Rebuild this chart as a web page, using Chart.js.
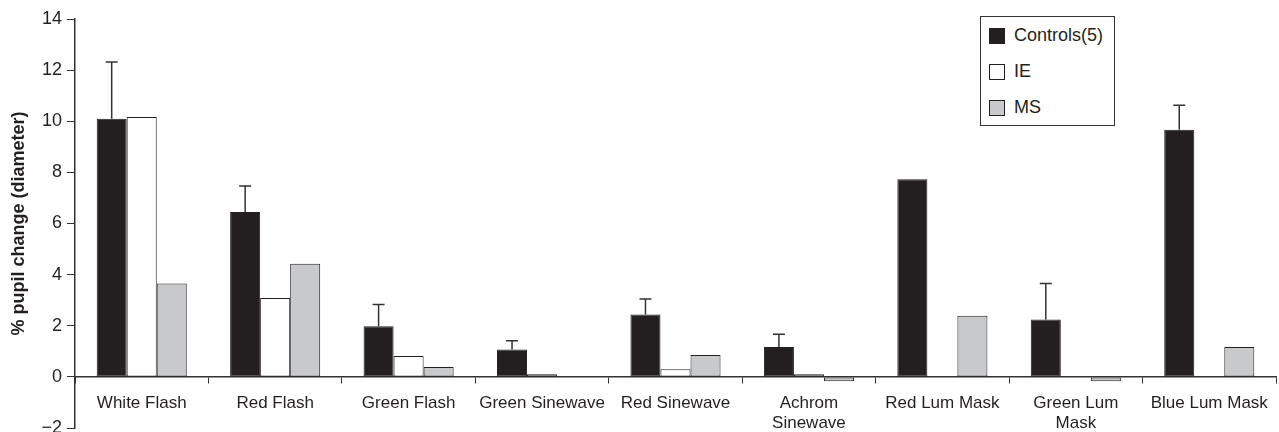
<!DOCTYPE html>
<html>
<head>
<meta charset="utf-8">
<script src="https://cdn.jsdelivr.net/npm/chart.js@4/dist/chart.umd.min.js"></script>
<style>
  body { margin: 0; background: #fff; }
  #wrap { position: relative; width: 1279px; height: 432px; }
  #legend {
    position: absolute; left: 980px; top: 16px; width: 133px; height: 108px;
    border: 1px solid #333; background: #fff;
    font-family: "Liberation Sans", Arial, sans-serif; font-size: 18px; color: #231f20;
  }
  .item { position: absolute; left: 8px; height: 17px; line-height: 17px; }
  .sw { position: absolute; left: 0; top: 0; width: 16px; height: 16px; border: 1px solid #231f20; box-sizing: border-box; }
  .lab { position: absolute; left: 25px; top: -1px; white-space: nowrap; }
</style>
</head>
<body>
<div id="wrap">
  <canvas id="chart" width="1279" height="432"></canvas>
  <div id="legend"></div>
</div>
<script>
// categories along the x axis
const categories = [
  'White Flash', 'Red Flash', 'Green Flash', 'Green Sinewave', 'Red Sinewave',
  ['Achrom', 'Sinewave'], 'Red Lum Mask', ['Green Lum', 'Mask'], 'Blue Lum Mask'
];

// series values
const controls    = [10.1, 6.45, 1.98, 1.07, 2.44, 1.17, 7.73, 2.24, 9.67];
const controlsErr = [2.22, 1.02, 0.85, 0.34, 0.61, 0.50, 0,    1.41, 0.96];
const ie          = [10.17, 3.09, 0.82, 0.1, 0.3, 0.1, null, null, null];
const ms          = [3.65, 4.43, 0.39, null, 0.86, -0.17, 2.39, -0.17, 1.17];

const seriesNames = ['Controls(5)', 'IE', 'MS'];
const yTicks = [-2, 0, 2, 4, 6, 8, 10, 12, 14];

const FONT = '"Liberation Sans", Arial, sans-serif';
const INK = '#231f20';
const fills = ['#231f20', '#ffffff', '#c8c9cb'];

// legend in a bordered box, same as the figure
const legend = document.getElementById('legend');
seriesNames.forEach((name, i) => {
  const it = document.createElement('div');
  it.className = 'item';
  it.style.top = (11 + i * 36) + 'px';
  it.innerHTML = `<span class="sw" style="background:${fills[i]}"></span><span class="lab">${name}</span>`;
  legend.appendChild(it);
});

// one-sided (upward) error bars for the controls
const errorBars = {
  id: 'errorBars',
  afterDatasetsDraw(chart) {
    const meta = chart.getDatasetMeta(0);
    const y = chart.scales.y;
    const ctx = chart.ctx;
    ctx.save();
    ctx.strokeStyle = '#333';
    ctx.lineWidth = 1.5;
    meta.data.forEach((bar, i) => {
      const e = controlsErr[i];
      if (!e) return;
      const top = y.getPixelForValue(controls[i] + e);
      ctx.beginPath();
      ctx.moveTo(bar.x, bar.y);
      ctx.lineTo(bar.x, top);
      ctx.moveTo(bar.x - 6, top);
      ctx.lineTo(bar.x + 6, top);
      ctx.stroke();
    });
    ctx.restore();
  }
};

const makeSet = (label, data, i) => ({
  label, data,
  backgroundColor: fills[i],
  borderColor: INK,
  borderWidth: 1,
  borderSkipped: false,
  categoryPercentage: 0.675,
  barPercentage: 1.0
});

new Chart(document.getElementById('chart'), {
  type: 'bar',
  data: {
    labels: categories,
    datasets: [
      makeSet(seriesNames[0], controls, 0),
      makeSet(seriesNames[1], ie, 1),
      makeSet(seriesNames[2], ms, 2)
    ]
  },
  options: {
    responsive: false,
    animation: false,
    layout: { padding: { top: 19, right: 3, bottom: 4, left: 0 } },
    plugins: { legend: { display: false }, tooltip: { enabled: false } },
    scales: {
      x: {
        position: { y: 0 },
        grid: { offset: true, drawOnChartArea: false, drawTicks: true, tickLength: 6, color: '#333', lineWidth: 1 },
        border: { display: true, color: '#333', width: 1.5 },
        ticks: { color: INK, font: { family: FONT, size: 17 }, padding: 10, maxRotation: 0, autoSkip: false }
      },
      y: {
        min: -2, max: 14,
        afterBuildTicks: s => { s.ticks = yTicks.map(v => ({ value: v })); },
        afterFit: s => { s.width = 75; s.paddingTop = 0; s.paddingBottom = 0; },
        grid: { drawOnChartArea: false, drawTicks: true, tickLength: 8, color: '#333', lineWidth: 1 },
        border: { display: true, color: '#333', width: 1.5 },
        ticks: {
          color: INK, font: { family: FONT, size: 18 }, padding: 5,
          callback: v => String(v).replace('-', '\u2212')
        },
        title: {
          display: true, text: '% pupil change (diameter)', color: INK,
          font: { family: FONT, size: 18, weight: 'bold' }, padding: { top: 8, bottom: 0 }
        }
      }
    }
  },
  plugins: [errorBars]
});
</script>
</body>
</html>
